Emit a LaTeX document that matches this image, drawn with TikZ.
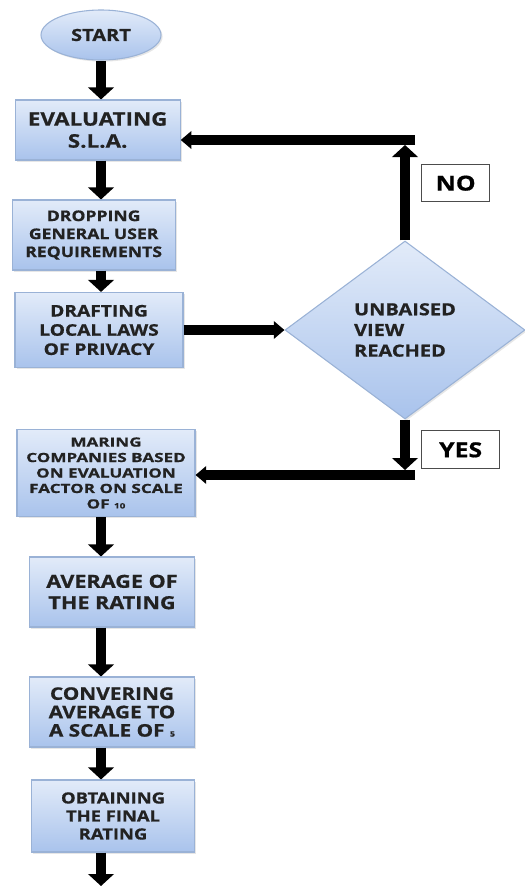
\documentclass[tikz,border=0pt]{standalone}
\usepackage{fontspec}
\newfontfamily\boxfont{Open Sans}[FakeStretch=1.2, BoldFeatures={FakeBold=0.8}]
\newfontfamily\wideboxfont{Open Sans}[FakeStretch=1.35, BoldFeatures={FakeBold=0.8}]
\usepackage{tikz}
\usetikzlibrary{shapes, shapes.geometric, arrows.meta, shadows}
\definecolor{boxtop}{HTML}{E2EBF9}
\definecolor{boxbot}{HTML}{A9C3EC}
\definecolor{boxline}{HTML}{9AB2D6}
\definecolor{ink}{HTML}{222222}
\tikzstyle{base}     = [draw=boxline, line width=0.8pt, top color=boxtop, bottom color=boxbot, text=ink, font=\boxfont\bfseries, align=center, inner sep=2pt, drop shadow={opacity=0.2, shadow xshift=1.2pt, shadow yshift=-1.2pt}]
\tikzstyle{terminal} = [base, ellipse, minimum width=90pt, minimum height=37.5pt]
\tikzstyle{process}  = [base, rectangle, minimum width=123.75pt, minimum height=52.5pt]
\tikzstyle{decision} = [base, diamond, inner sep=0pt, minimum width=180pt, minimum height=133.5pt, align=left]
\tikzstyle{answer}   = [rectangle, draw=black!70, line width=1pt, fill=white, text=black, inner sep=1pt, font=\boxfont\bfseries\fontsize{15.5}{15.5}\selectfont]
\tikzstyle{down}     = [draw, line width=7.5pt, -{Triangle[width=19pt, length=9pt]}]
\tikzstyle{across}   = [draw, line width=7.5pt, -{Triangle[width=13pt, length=8pt]}]
\newcommand{\smallnum}[1]{{\fontsize{5.5}{5.5}\selectfont #1}}

\begin{document}
\begin{tikzpicture}[x=0.75pt, y=-0.75pt]
    \useasboundingbox (0,0) rectangle (525,886);
    \node[terminal, font=\boxfont\bfseries\fontsize{12.5}{12.5}\selectfont](start) at (101,35){START};
    \node[process, below of=start, node distance=71.25pt, xshift=-2.5pt, minimum height=45pt,
          font=\boxfont\bfseries\fontsize{14}{16.5}\selectfont](eval){EVALUATING\\S.L.A.};
    \node[process, below of=eval, node distance=78.75pt, xshift=-3pt, minimum width=122.25pt,
          font=\boxfont\bfseries\fontsize{11}{13.5}\selectfont](drop){DROPPING\\GENERAL USER\\REQUIREMENTS};
    \node[process, below of=drop, node distance=71.25pt, xshift=4pt, minimum width=126pt, minimum height=56.25pt,
          font=\boxfont\bfseries\fontsize{12}{14.4}\selectfont](draft){DRAFTING\\LOCAL LAWS\\OF PRIVACY};
    \node[decision, right of=draft, node distance=229.5pt,
          font=\boxfont\bfseries\fontsize{12.5}{15.5}\selectfont](view){UNBAISED\\VIEW\\REACHED};
    \node[process, below of=draft, node distance=107.25pt, xshift=5.25pt, minimum width=133.5pt, minimum height=65.25pt,
          font=\wideboxfont\bfseries\fontsize{9.5}{11.6}\selectfont](mark){MARING\\COMPANIES BASED\\ON EVALUATION\\FACTOR ON SCALE\\OF \smallnum{10}};
    \node[process, below of=mark, node distance=89.25pt, xshift=4.5pt,
          font=\boxfont\bfseries\fontsize{13.5}{16}\selectfont](avg){AVERAGE OF\\THE RATING};
    \node[process, below of=avg, node distance=90pt,
          font=\boxfont\bfseries\fontsize{13}{13.8}\selectfont](conv){CONVERING\\AVERAGE TO\\A SCALE OF \smallnum{5}};
    \node[process, below of=conv, node distance=78pt, xshift=0.75pt, minimum width=122.25pt, minimum height=54pt,
          font=\boxfont\bfseries\fontsize{11.5}{13.5}\selectfont](final){OBTAINING\\THE FINAL\\RATING};
    \coordinate[above of=view, node distance=142.5pt](noturn);
    \coordinate[below of=view, node distance=108.75pt](yesturn);
    \coordinate[below of=final, node distance=52.5pt](finish);

    \path[down](start.south -| start) -- (eval.north -| start);
    \path[down](eval.south -| start) -- (drop.north -| start);
    \path[down](drop.south -| start) -- (draft.north -| start);
    \path[across](draft.east) -- (view.west);
    \path[down](view.north) -- node[answer, pos=0.6, right=12pt, minimum width=51pt, minimum height=27.75pt]{NO}([yshift=-3.75pt]noturn);
    \path[across]([xshift=7.5pt]noturn) -- (noturn -| eval.east);
    \path[down](view.south) -- node[answer, pos=0.6, right=12pt, minimum width=58.5pt, minimum height=28.5pt]{YES}([yshift=3.75pt]yesturn);
    \path[across]([xshift=7.5pt]yesturn) -- (yesturn -| mark.east);
    \path[down](mark.south -| start) -- (avg.north -| start);
    \path[down](avg.south -| start) -- (conv.north -| start);
    \path[down](conv.south -| start) -- (final.north -| start);
    \path[down](final.south -| start) -- (finish -| start);
\end{tikzpicture}
\end{document}
